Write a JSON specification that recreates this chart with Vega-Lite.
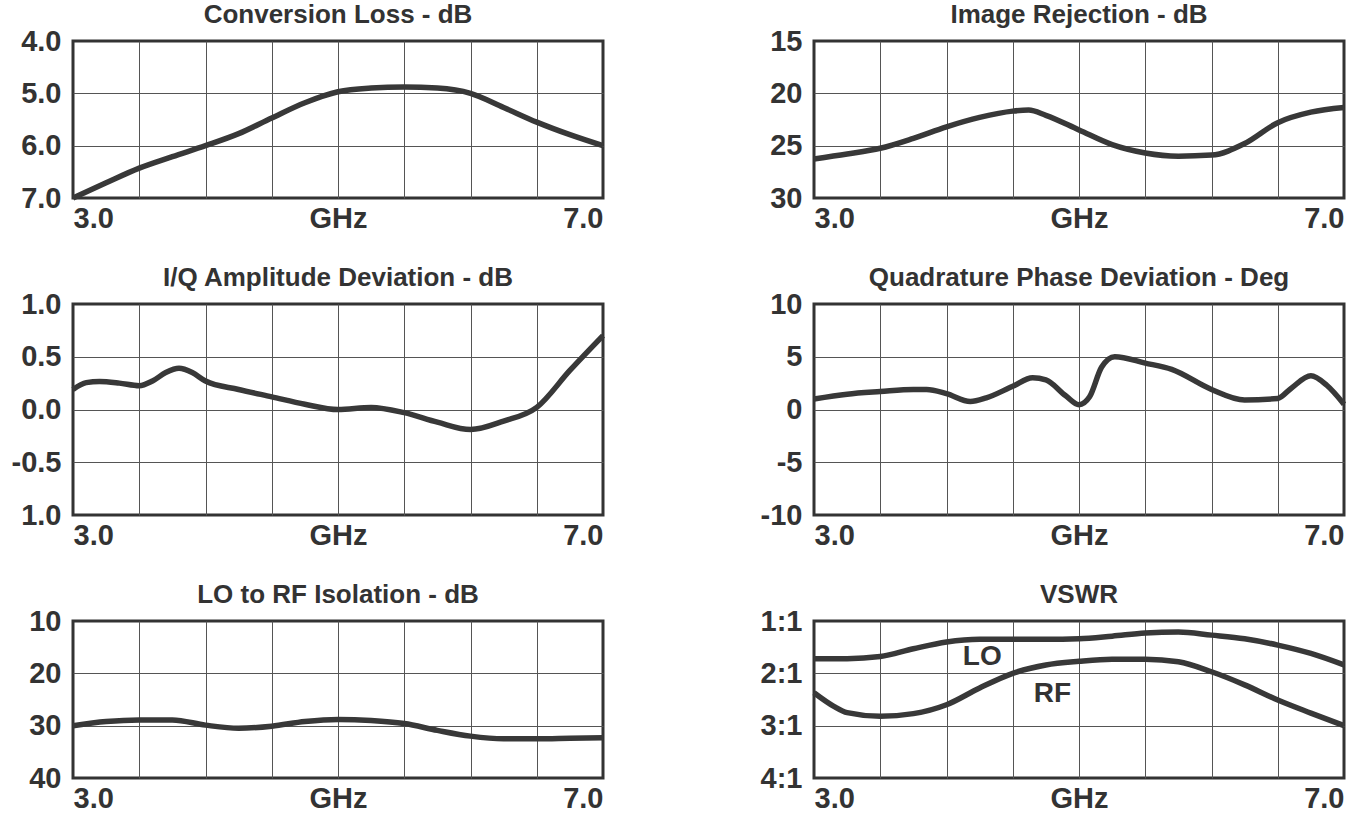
{
  "$schema": "https://vega.github.io/schema/vega-lite/v6.json",
  "background": "white",
  "padding": {"left": 9, "top": 0, "right": 15, "bottom": 2},
  "datasets": {
    "cl": [
      {"f": 3.0, "v": 7.0}, {"f": 3.25, "v": 6.71}, {"f": 3.5, "v": 6.43}, {"f": 3.75, "v": 6.21},
      {"f": 4.0, "v": 6.0}, {"f": 4.25, "v": 5.77}, {"f": 4.5, "v": 5.47}, {"f": 4.75, "v": 5.18},
      {"f": 5.0, "v": 4.97}, {"f": 5.25, "v": 4.9}, {"f": 5.5, "v": 4.88}, {"f": 5.75, "v": 4.9},
      {"f": 6.0, "v": 5.0}, {"f": 6.25, "v": 5.27}, {"f": 6.5, "v": 5.55}, {"f": 6.75, "v": 5.79},
      {"f": 7.0, "v": 6.0}
    ],
    "ir": [
      {"f": 3.0, "v": 26.27}, {"f": 3.25, "v": 25.8}, {"f": 3.5, "v": 25.25}, {"f": 3.75, "v": 24.3},
      {"f": 4.0, "v": 23.2}, {"f": 4.25, "v": 22.3}, {"f": 4.5, "v": 21.7}, {"f": 4.62, "v": 21.6},
      {"f": 4.75, "v": 22.1}, {"f": 5.0, "v": 23.5}, {"f": 5.25, "v": 24.9}, {"f": 5.5, "v": 25.7},
      {"f": 5.75, "v": 26.0}, {"f": 6.0, "v": 25.9}, {"f": 6.25, "v": 24.8}, {"f": 6.5, "v": 22.8},
      {"f": 6.75, "v": 21.8}, {"f": 7.0, "v": 21.35}
    ],
    "iq": [
      {"f": 3.0, "v": 0.19}, {"f": 3.1, "v": 0.255}, {"f": 3.2, "v": 0.265}, {"f": 3.35, "v": 0.25},
      {"f": 3.5, "v": 0.225}, {"f": 3.6, "v": 0.27}, {"f": 3.7, "v": 0.35}, {"f": 3.8, "v": 0.39},
      {"f": 3.9, "v": 0.35}, {"f": 4.0, "v": 0.27}, {"f": 4.25, "v": 0.19}, {"f": 4.5, "v": 0.12},
      {"f": 4.75, "v": 0.05}, {"f": 5.0, "v": 0.0}, {"f": 5.25, "v": 0.02}, {"f": 5.5, "v": -0.03},
      {"f": 5.75, "v": -0.12}, {"f": 6.0, "v": -0.19}, {"f": 6.25, "v": -0.11}, {"f": 6.5, "v": 0.02},
      {"f": 6.75, "v": 0.37}, {"f": 7.0, "v": 0.7}
    ],
    "qp": [
      {"f": 3.0, "v": 1.0}, {"f": 3.25, "v": 1.45}, {"f": 3.5, "v": 1.7}, {"f": 3.75, "v": 1.9},
      {"f": 3.85, "v": 1.9}, {"f": 4.0, "v": 1.5}, {"f": 4.18, "v": 0.75}, {"f": 4.3, "v": 1.1},
      {"f": 4.5, "v": 2.2}, {"f": 4.65, "v": 3.0}, {"f": 4.75, "v": 2.8}, {"f": 4.9, "v": 1.3},
      {"f": 5.0, "v": 0.45}, {"f": 5.08, "v": 1.2}, {"f": 5.17, "v": 4.0}, {"f": 5.27, "v": 5.0},
      {"f": 5.5, "v": 4.4}, {"f": 5.7, "v": 3.8}, {"f": 6.0, "v": 1.9}, {"f": 6.25, "v": 0.9},
      {"f": 6.5, "v": 1.05}, {"f": 6.6, "v": 2.0}, {"f": 6.75, "v": 3.2}, {"f": 6.87, "v": 2.3},
      {"f": 7.0, "v": 0.5}
    ],
    "iso": [
      {"f": 3.0, "v": 30.0}, {"f": 3.25, "v": 29.2}, {"f": 3.5, "v": 28.9}, {"f": 3.75, "v": 28.9},
      {"f": 4.0, "v": 29.9}, {"f": 4.25, "v": 30.5}, {"f": 4.5, "v": 30.1}, {"f": 4.75, "v": 29.2},
      {"f": 5.0, "v": 28.8}, {"f": 5.25, "v": 29.0}, {"f": 5.5, "v": 29.6}, {"f": 5.75, "v": 30.9},
      {"f": 6.0, "v": 32.0}, {"f": 6.25, "v": 32.5}, {"f": 6.5, "v": 32.5}, {"f": 6.75, "v": 32.4},
      {"f": 7.0, "v": 32.3}
    ],
    "vswr": [
      {"s": "LO", "f": 3.0, "v": 1.72}, {"s": "LO", "f": 3.25, "v": 1.72}, {"s": "LO", "f": 3.5, "v": 1.68},
      {"s": "LO", "f": 3.75, "v": 1.53}, {"s": "LO", "f": 4.0, "v": 1.4}, {"s": "LO", "f": 4.25, "v": 1.35},
      {"s": "LO", "f": 4.5, "v": 1.35}, {"s": "LO", "f": 4.75, "v": 1.35}, {"s": "LO", "f": 5.0, "v": 1.34},
      {"s": "LO", "f": 5.25, "v": 1.29}, {"s": "LO", "f": 5.5, "v": 1.23}, {"s": "LO", "f": 5.75, "v": 1.21},
      {"s": "LO", "f": 6.0, "v": 1.27}, {"s": "LO", "f": 6.25, "v": 1.34}, {"s": "LO", "f": 6.5, "v": 1.46},
      {"s": "LO", "f": 6.75, "v": 1.62}, {"s": "LO", "f": 7.0, "v": 1.84},
      {"s": "RF", "f": 3.0, "v": 2.37}, {"s": "RF", "f": 3.15, "v": 2.63}, {"s": "RF", "f": 3.25, "v": 2.75},
      {"s": "RF", "f": 3.5, "v": 2.82}, {"s": "RF", "f": 3.75, "v": 2.77}, {"s": "RF", "f": 4.0, "v": 2.6},
      {"s": "RF", "f": 4.25, "v": 2.28}, {"s": "RF", "f": 4.5, "v": 2.0}, {"s": "RF", "f": 4.75, "v": 1.84},
      {"s": "RF", "f": 5.0, "v": 1.77}, {"s": "RF", "f": 5.25, "v": 1.73}, {"s": "RF", "f": 5.5, "v": 1.73},
      {"s": "RF", "f": 5.75, "v": 1.78}, {"s": "RF", "f": 6.0, "v": 1.97}, {"s": "RF", "f": 6.25, "v": 2.22},
      {"s": "RF", "f": 6.5, "v": 2.51}, {"s": "RF", "f": 6.75, "v": 2.76}, {"s": "RF", "f": 7.0, "v": 3.0}
    ],
    "vswrLabels": [
      {"label": "LO", "f": 4.27, "v": 1.68},
      {"label": "RF", "f": 4.8, "v": 2.4}
    ]
  },
  "columns": 2,
  "spacing": {"row": 106, "column": 211},
  "bounds": "flush",
  "concat": [
    {
      "title": "Conversion Loss - dB",
      "width": 530, "height": 157,
      "data": {"name": "cl"},
      "mark": {"type": "line"},
      "encoding": {
        "x": {"field": "f", "type": "quantitative", "title": null,
          "scale": {"domain": [3, 7], "nice": false, "zero": false},
          "axis": {"values": [3, 3.5, 4, 4.5, 5, 5.5, 6, 6.5, 7],
            "labelExpr": "datum.value == 3 ? '3.0' : datum.value == 7 ? '7.0' : datum.value == 5 ? 'GHz' : ''",
            "gridOpacity": {"condition": {"test": "datum.value == 3 || datum.value == 7", "value": 0}, "value": 1}}},
        "y": {"field": "v", "type": "quantitative", "title": null,
          "scale": {"domain": [4, 7], "reverse": true, "nice": false, "zero": false},
          "axis": {"values": [4, 5, 6, 7], "format": ".1f",
            "gridOpacity": {"condition": {"test": "datum.value == 4 || datum.value == 7", "value": 0}, "value": 1}}}
      }
    },
    {
      "title": "Image Rejection - dB",
      "width": 530, "height": 157,
      "data": {"name": "ir"},
      "mark": {"type": "line"},
      "encoding": {
        "x": {"field": "f", "type": "quantitative", "title": null,
          "scale": {"domain": [3, 7], "nice": false, "zero": false},
          "axis": {"values": [3, 3.5, 4, 4.5, 5, 5.5, 6, 6.5, 7],
            "labelExpr": "datum.value == 3 ? '3.0' : datum.value == 7 ? '7.0' : datum.value == 5 ? 'GHz' : ''",
            "gridOpacity": {"condition": {"test": "datum.value == 3 || datum.value == 7", "value": 0}, "value": 1}}},
        "y": {"field": "v", "type": "quantitative", "title": null,
          "scale": {"domain": [15, 30], "reverse": true, "nice": false, "zero": false},
          "axis": {"values": [15, 20, 25, 30], "labelExpr": "'' + datum.value",
            "gridOpacity": {"condition": {"test": "datum.value == 15 || datum.value == 30", "value": 0}, "value": 1}}}
      }
    },
    {
      "title": "I/Q Amplitude Deviation - dB",
      "width": 530, "height": 211,
      "data": {"name": "iq"},
      "mark": {"type": "line"},
      "encoding": {
        "x": {"field": "f", "type": "quantitative", "title": null,
          "scale": {"domain": [3, 7], "nice": false, "zero": false},
          "axis": {"values": [3, 3.5, 4, 4.5, 5, 5.5, 6, 6.5, 7],
            "labelExpr": "datum.value == 3 ? '3.0' : datum.value == 7 ? '7.0' : datum.value == 5 ? 'GHz' : ''",
            "gridOpacity": {"condition": {"test": "datum.value == 3 || datum.value == 7", "value": 0}, "value": 1}}},
        "y": {"field": "v", "type": "quantitative", "title": null,
          "scale": {"domain": [-1, 1], "nice": false, "zero": false},
          "axis": {"values": [-1, -0.5, 0, 0.5, 1],
            "labelExpr": "datum.value == -1 ? '1.0' : datum.value == -0.5 ? '-0.5' : datum.value == 0 ? '0.0' : datum.value == 0.5 ? '0.5' : '1.0'",
            "gridOpacity": {"condition": {"test": "datum.value == -1 || datum.value == 1", "value": 0}, "value": 1}}}
      }
    },
    {
      "title": "Quadrature Phase Deviation - Deg",
      "width": 530, "height": 211,
      "data": {"name": "qp"},
      "mark": {"type": "line"},
      "encoding": {
        "x": {"field": "f", "type": "quantitative", "title": null,
          "scale": {"domain": [3, 7], "nice": false, "zero": false},
          "axis": {"values": [3, 3.5, 4, 4.5, 5, 5.5, 6, 6.5, 7],
            "labelExpr": "datum.value == 3 ? '3.0' : datum.value == 7 ? '7.0' : datum.value == 5 ? 'GHz' : ''",
            "gridOpacity": {"condition": {"test": "datum.value == 3 || datum.value == 7", "value": 0}, "value": 1}}},
        "y": {"field": "v", "type": "quantitative", "title": null,
          "scale": {"domain": [-10, 10], "nice": false, "zero": false},
          "axis": {"values": [-10, -5, 0, 5, 10], "labelExpr": "'' + datum.value",
            "gridOpacity": {"condition": {"test": "datum.value == -10 || datum.value == 10", "value": 0}, "value": 1}}}
      }
    },
    {
      "title": "LO to RF Isolation - dB",
      "width": 530, "height": 157,
      "data": {"name": "iso"},
      "mark": {"type": "line"},
      "encoding": {
        "x": {"field": "f", "type": "quantitative", "title": null,
          "scale": {"domain": [3, 7], "nice": false, "zero": false},
          "axis": {"values": [3, 3.5, 4, 4.5, 5, 5.5, 6, 6.5, 7],
            "labelExpr": "datum.value == 3 ? '3.0' : datum.value == 7 ? '7.0' : datum.value == 5 ? 'GHz' : ''",
            "gridOpacity": {"condition": {"test": "datum.value == 3 || datum.value == 7", "value": 0}, "value": 1}}},
        "y": {"field": "v", "type": "quantitative", "title": null,
          "scale": {"domain": [10, 40], "reverse": true, "nice": false, "zero": false},
          "axis": {"values": [10, 20, 30, 40], "labelExpr": "'' + datum.value",
            "gridOpacity": {"condition": {"test": "datum.value == 10 || datum.value == 40", "value": 0}, "value": 1}}}
      }
    },
    {
      "title": "VSWR",
      "width": 530, "height": 157,
      "layer": [
        {
          "data": {"name": "vswr"},
          "mark": {"type": "line"},
          "encoding": {
            "x": {"field": "f", "type": "quantitative", "title": null,
              "scale": {"domain": [3, 7], "nice": false, "zero": false},
              "axis": {"values": [3, 3.5, 4, 4.5, 5, 5.5, 6, 6.5, 7],
                "labelExpr": "datum.value == 3 ? '3.0' : datum.value == 7 ? '7.0' : datum.value == 5 ? 'GHz' : ''",
                "gridOpacity": {"condition": {"test": "datum.value == 3 || datum.value == 7", "value": 0}, "value": 1}}},
            "y": {"field": "v", "type": "quantitative", "title": null,
              "scale": {"domain": [1, 4], "reverse": true, "nice": false, "zero": false},
              "axis": {"values": [1, 2, 3, 4], "labelExpr": "datum.value + ':1'",
                "gridOpacity": {"condition": {"test": "datum.value == 1 || datum.value == 4", "value": 0}, "value": 1}}},
            "detail": {"field": "s", "type": "nominal"}
          }
        },
        {
          "data": {"name": "vswrLabels"},
          "mark": {"type": "text", "font": "Liberation Sans", "fontSize": 28, "fontWeight": "bold", "color": "#333333", "align": "center", "baseline": "middle"},
          "encoding": {
            "x": {"field": "f", "type": "quantitative"},
            "y": {"field": "v", "type": "quantitative"},
            "text": {"field": "label", "type": "nominal"}
          }
        }
      ]
    }
  ],
  "config": {
    "font": "Liberation Sans",
    "view": {"stroke": "#333333", "strokeWidth": 3},
    "title": {"font": "Liberation Sans", "fontSize": 26, "fontWeight": "bold", "color": "#333333", "offset": -1, "anchor": "middle"},
    "axis": {
      "labelFont": "Liberation Sans", "labelFontSize": 29, "labelFontWeight": "bold", "labelColor": "#333333",
      "ticks": false, "domain": false, "grid": true, "gridColor": "#555555", "gridWidth": 1,
      "labelOverlap": false
    },
    "axisX": {"labelFlush": true, "labelPadding": 6},
    "axisY": {"labelFlush": false, "labelPadding": 12, "labelBaseline": "middle"},
    "line": {"color": "#383838", "strokeWidth": 5.5, "interpolate": "monotone"}
  }
}
